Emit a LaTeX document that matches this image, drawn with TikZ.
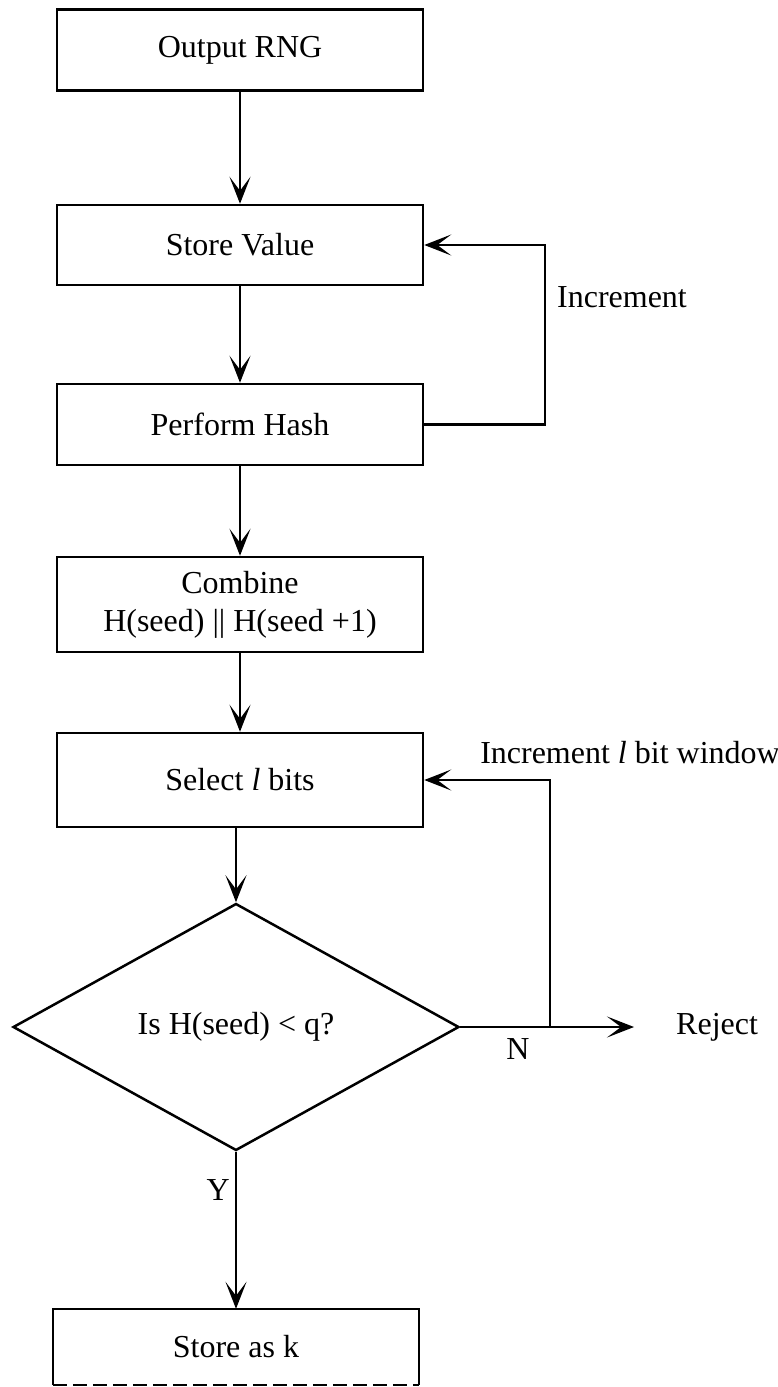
\documentclass[tikz,border=0pt]{standalone}
\usepackage{fontspec}
\setmainfont{Liberation Serif}
\usetikzlibrary{arrows.meta,shapes.geometric}
\begin{document}
\begin{tikzpicture}[x=1pt,y=-1pt,
  txt/.style={font=\fontsize{32}{38}\selectfont, inner sep=0pt, align=center},
  box/.style={txt, draw, line width=2.5pt, minimum width=366pt, minimum height=81pt},
  arr/.style={line width=2.5pt, -{Stealth[length=27pt,width=21pt,inset=14pt]}}]
\useasboundingbox (0,0) rectangle (777,1387);
% boxes
\node[box] (b1) at (240,50) {Output RNG};
\node[box, minimum height=80pt] (b2) at (240,245) {Store Value};
\node[box] (b3) at (240,424.5) {Perform Hash};
\node[box, minimum height=95pt] (b4) at (240,604.5) {Combine\\H(seed) || H(seed +1)};
\node[box, minimum height=94pt] (b5) at (240,780) {Select \textit{l} bits};
\node[txt, draw, diamond, line width=2.5pt, minimum width=446pt, minimum height=247pt, aspect=1.8] (dec) at (236,1027) {Is H(seed) < q?};
\node[txt, minimum width=366pt, minimum height=76pt] (b6) at (236,1347) {Store as k};
\draw[line width=2.5pt] (b6.south west) -- (b6.north west) -- (b6.north east) -- (b6.south east);
\draw[line width=2.5pt, dash pattern=on 14pt off 6pt] (b6.south west) -- (b6.south east);
% labels
\node[txt] (inc) at (622,297) {Increment};
\node[txt] (incl) at (630,753) {Increment \textit{l} bit window};
\node[txt, anchor=west] (rej) at (676,1027) {Reject};
\node[txt] (nlab) at (518,1049) {N};
\node[txt, anchor=east] (ylab) at (230,1190) {Y};
% connectors
\coordinate (l1) at (545,0);
\coordinate (j) at (550,1027);
\coordinate (rt) at (634,1027);
\draw[arr] (b1.south) -- (b2.north);
\draw[arr] (b2.south) -- (b3.north);
\draw[arr] (b3.south) -- (b4.north);
\draw[arr] (b4.south) -- (b5.north);
\draw[arr] (dec.north |- b5.south) -- (dec.north);
\draw[arr] (b3.east) -- (b3.east -| l1) |- (b2.east);
\draw[arr] (j) |- (b5.east);
\draw[arr] (dec.east) -- (rt);
\draw[arr] (dec.south) -- (b6.north);
\end{tikzpicture}
\end{document}
